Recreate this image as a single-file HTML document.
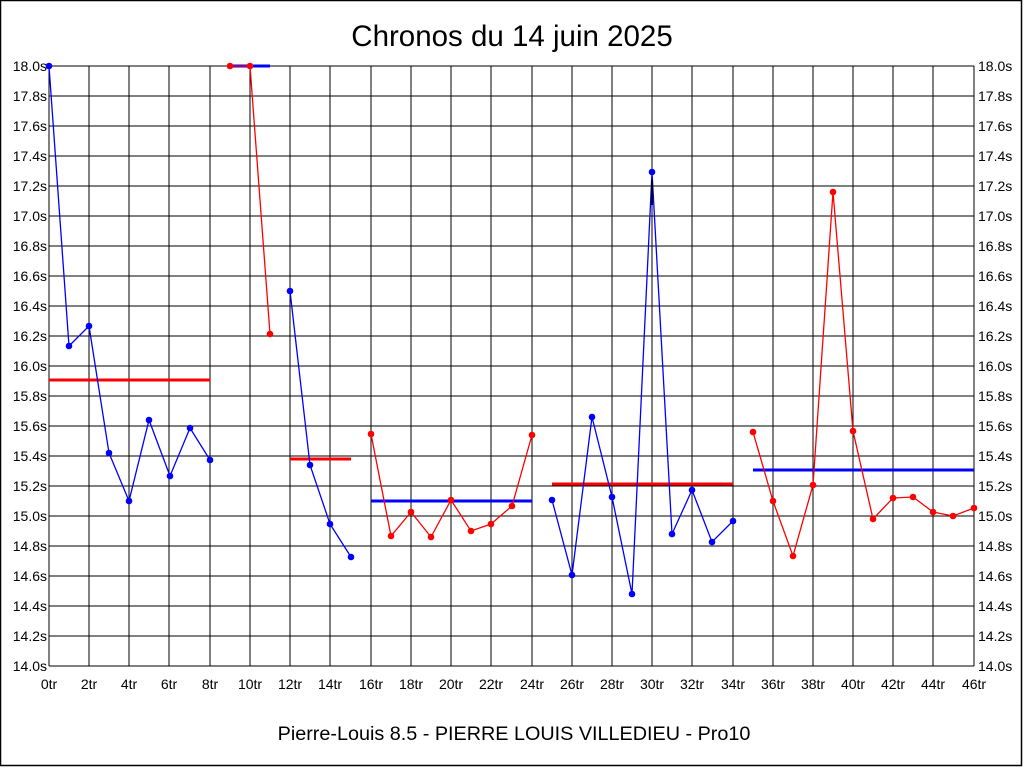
<!DOCTYPE html>
<html><head><meta charset="utf-8"><style>body{margin:0;background:#fff}svg{display:block}text{font-family:"Liberation Sans",sans-serif}</style></head><body>
<svg width="1024" height="768" xmlns="http://www.w3.org/2000/svg">
<rect x="0.5" y="0.5" width="1021" height="765" fill="#fff" stroke="#000" stroke-width="1.5"/>
<text x="512" y="46" font-size="29.5" text-anchor="middle">Chronos du 14 juin 2025</text>
<text x="514" y="740" font-size="19.8" text-anchor="middle">Pierre-Louis 8.5 - PIERRE LOUIS VILLEDIEU - Pro10</text>
<g stroke="#000" stroke-width="1" shape-rendering="crispEdges">
<path d="M49 66V666M89 66V666M129 66V666M169 66V666M210 66V666M250 66V666M290 66V666M330 66V666M371 66V666M411 66V666M451 66V666M491 66V666M532 66V666M572 66V666M612 66V666M652 66V666M692 66V666M733 66V666M773 66V666M813 66V666M853 66V666M893 66V666M933 66V666M974 66V666"/>
<path d="M49 66H974M49 96H974M49 126H974M49 156H974M49 186H974M49 216H974M49 246H974M49 276H974M49 306H974M49 336H974M49 366H974M49 396H974M49 426H974M49 456H974M49 486H974M49 516H974M49 546H974M49 576H974M49 606H974M49 636H974M49 666H974"/>
</g>
<g font-size="14" text-anchor="end">
<text x="47" y="71">18.0s</text><text x="47" y="101">17.8s</text><text x="47" y="131">17.6s</text><text x="47" y="161">17.4s</text><text x="47" y="191">17.2s</text><text x="47" y="221">17.0s</text><text x="47" y="251">16.8s</text><text x="47" y="281">16.6s</text><text x="47" y="311">16.4s</text><text x="47" y="341">16.2s</text><text x="47" y="371">16.0s</text><text x="47" y="401">15.8s</text><text x="47" y="431">15.6s</text><text x="47" y="461">15.4s</text><text x="47" y="491">15.2s</text><text x="47" y="521">15.0s</text><text x="47" y="551">14.8s</text><text x="47" y="581">14.6s</text><text x="47" y="611">14.4s</text><text x="47" y="641">14.2s</text><text x="47" y="671">14.0s</text>
</g>
<g font-size="14">
<text x="978" y="71">18.0s</text><text x="978" y="101">17.8s</text><text x="978" y="131">17.6s</text><text x="978" y="161">17.4s</text><text x="978" y="191">17.2s</text><text x="978" y="221">17.0s</text><text x="978" y="251">16.8s</text><text x="978" y="281">16.6s</text><text x="978" y="311">16.4s</text><text x="978" y="341">16.2s</text><text x="978" y="371">16.0s</text><text x="978" y="401">15.8s</text><text x="978" y="431">15.6s</text><text x="978" y="461">15.4s</text><text x="978" y="491">15.2s</text><text x="978" y="521">15.0s</text><text x="978" y="551">14.8s</text><text x="978" y="581">14.6s</text><text x="978" y="611">14.4s</text><text x="978" y="641">14.2s</text><text x="978" y="671">14.0s</text>
</g>
<g font-size="14" text-anchor="middle">
<text x="49" y="689">0tr</text><text x="89" y="689">2tr</text><text x="129" y="689">4tr</text><text x="169" y="689">6tr</text><text x="210" y="689">8tr</text><text x="250" y="689">10tr</text><text x="290" y="689">12tr</text><text x="330" y="689">14tr</text><text x="371" y="689">16tr</text><text x="411" y="689">18tr</text><text x="451" y="689">20tr</text><text x="491" y="689">22tr</text><text x="532" y="689">24tr</text><text x="572" y="689">26tr</text><text x="612" y="689">28tr</text><text x="652" y="689">30tr</text><text x="692" y="689">32tr</text><text x="733" y="689">34tr</text><text x="773" y="689">36tr</text><text x="813" y="689">38tr</text><text x="853" y="689">40tr</text><text x="893" y="689">42tr</text><text x="933" y="689">44tr</text><text x="974" y="689">46tr</text>
</g>
<g stroke-width="3">
<path d="M49 380H210" stroke="#f00"/>
<path d="M230 66H270" stroke="#00f"/>
<path d="M290 459H351" stroke="#f00"/>
<path d="M371 501H532" stroke="#00f"/>
<path d="M552 484H733" stroke="#f00"/>
<path d="M753 470H974" stroke="#00f"/>
</g>
<g fill="none" stroke-width="1.3">
<polyline stroke="#00f" points="49,66 69,346 89,326 109,453 129,501 149,420 170,476 190,428 210,460"/>
<polyline stroke="#f00" points="230,66 250,66 270,334"/>
<polyline stroke="#00f" points="290,291 310,465 330,524 351,557"/>
<polyline stroke="#f00" points="371,434 391,536 411,512 431,537 451,500 471,531 491,524 512,506 532,435"/>
<polyline stroke="#00f" points="552,500 572,575 592,417 612,497 632,594 652,172 672,534 692,490 712,542 733,521"/>
<polyline stroke="#f00" points="753,432 773,501 793,556 813,485 833,192 853,431 873,519 893,498 913,497 933,512 953,516 974,508"/>
<path d="M652 180V205" stroke="#000" stroke-width="2"/>
</g>
<g fill="#00f">
<circle cx="49" cy="66" r="3.3"/><circle cx="69" cy="346" r="3.3"/><circle cx="89" cy="326" r="3.3"/><circle cx="109" cy="453" r="3.3"/><circle cx="129" cy="501" r="3.3"/><circle cx="149" cy="420" r="3.3"/><circle cx="170" cy="476" r="3.3"/><circle cx="190" cy="428" r="3.3"/><circle cx="210" cy="460" r="3.3"/>
<circle cx="290" cy="291" r="3.3"/><circle cx="310" cy="465" r="3.3"/><circle cx="330" cy="524" r="3.3"/><circle cx="351" cy="557" r="3.3"/>
<circle cx="552" cy="500" r="3.3"/><circle cx="572" cy="575" r="3.3"/><circle cx="592" cy="417" r="3.3"/><circle cx="612" cy="497" r="3.3"/><circle cx="632" cy="594" r="3.3"/><circle cx="652" cy="172" r="3.3"/><circle cx="672" cy="534" r="3.3"/><circle cx="692" cy="490" r="3.3"/><circle cx="712" cy="542" r="3.3"/><circle cx="733" cy="521" r="3.3"/>
</g>
<g fill="#f00">
<circle cx="230" cy="66" r="3.3"/><circle cx="250" cy="66" r="3.3"/><circle cx="270" cy="334" r="3.3"/>
<circle cx="371" cy="434" r="3.3"/><circle cx="391" cy="536" r="3.3"/><circle cx="411" cy="512" r="3.3"/><circle cx="431" cy="537" r="3.3"/><circle cx="451" cy="500" r="3.3"/><circle cx="471" cy="531" r="3.3"/><circle cx="491" cy="524" r="3.3"/><circle cx="512" cy="506" r="3.3"/><circle cx="532" cy="435" r="3.3"/>
<circle cx="753" cy="432" r="3.3"/><circle cx="773" cy="501" r="3.3"/><circle cx="793" cy="556" r="3.3"/><circle cx="813" cy="485" r="3.3"/><circle cx="833" cy="192" r="3.3"/><circle cx="853" cy="431" r="3.3"/><circle cx="873" cy="519" r="3.3"/><circle cx="893" cy="498" r="3.3"/><circle cx="913" cy="497" r="3.3"/><circle cx="933" cy="512" r="3.3"/><circle cx="953" cy="516" r="3.3"/><circle cx="974" cy="508" r="3.3"/>
</g>
</svg>
</body></html>
